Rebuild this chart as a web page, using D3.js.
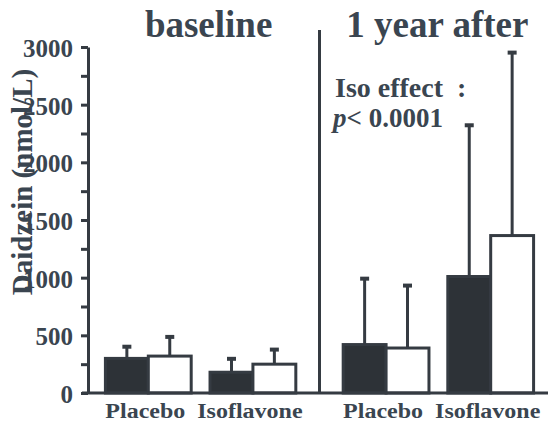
<!DOCTYPE html>
<html lang="en">
<head>
<meta charset="UTF-8">
<title>Daidzein</title>
<script src="https://cdn.jsdelivr.net/npm/d3@7/dist/d3.min.js"></script>
<style>
  body { margin: 0; background: #fff; }
  text { font-family: "Liberation Serif", "Times New Roman", serif; font-weight: bold; fill: #3a4550; }
</style>
</head>
<body>
<svg id="chart" width="551" height="432"></svg>
<script>
// data
var periods = ["baseline", "1 year after"];
var groups = ["Placebo", "Isoflavone"];
var arms = ["solid", "open"];
// per bar: baseline Placebo, baseline Isoflavone, 1yr Placebo, 1yr Isoflavone
var solidMean = [300, 180, 420, 1010];
var solidSD   = [110, 125, 580, 1320];
var openMean  = [320, 250, 390, 1365];
var openSD    = [175, 135, 550, 1595];
var yTicks = [0, 250, 500, 750, 1000, 1250, 1500, 1750, 2000, 2250, 2500, 2750, 3000];

var ink = "#353b42";
var svg = d3.select("#chart");

var rows = [];
periods.forEach(function(p, pi) {
  groups.forEach(function(g, gi) {
    var k = pi * 2 + gi;
    rows.push({period: p, group: g, arm: "solid", mean: solidMean[k], sd: solidSD[k]});
    rows.push({period: p, group: g, arm: "open", mean: openMean[k], sd: openSD[k]});
  });
});

var y = d3.scaleLinear().domain([0, 3000]).range([393, 47]);
var x0 = d3.scaleBand().domain(periods).range([96, 543]).paddingInner(0.12);
var x1 = d3.scaleBand().domain(groups).range([0, x0.bandwidth()]).paddingInner(0.18).paddingOuter(0.09);
var x2 = d3.scaleBand().domain(arms).range([0, x1.bandwidth()]);

function barX(d) { return x0(d.period) + x1(d.group) + x2(d.arm); }

// y axis
var yAxis = d3.axisLeft(y)
  .tickValues(yTicks)
  .tickFormat(function(d) { return d % 500 === 0 ? d : ""; })
  .tickSize(7)
  .tickSizeOuter(0)
  .tickPadding(8);

var ga = svg.append("g").attr("transform", "translate(88,0)").call(yAxis);
ga.select(".domain").attr("stroke", ink).attr("stroke-width", 3);
ga.selectAll(".tick line").attr("stroke", ink).attr("stroke-width", 3);
ga.selectAll(".tick text").style("font-size", "25px").attr("dy", "0.38em")
  .attr("fill", "#3a4550");

// error bars (upper only)
var eb = svg.append("g").selectAll("g").data(rows).enter().append("g");
eb.append("line")
  .attr("x1", function(d) { return barX(d) + x2.bandwidth() / 2; })
  .attr("x2", function(d) { return barX(d) + x2.bandwidth() / 2; })
  .attr("y1", function(d) { return y(d.mean); })
  .attr("y2", function(d) { return y(d.mean + d.sd); })
  .attr("stroke", ink).attr("stroke-width", 3);
eb.append("line")
  .attr("x1", function(d) { return barX(d) + x2.bandwidth() / 2 - 4.5; })
  .attr("x2", function(d) { return barX(d) + x2.bandwidth() / 2 + 4.5; })
  .attr("y1", function(d) { return y(d.mean + d.sd) + 1; })
  .attr("y2", function(d) { return y(d.mean + d.sd) + 1; })
  .attr("stroke", ink).attr("stroke-width", 4);

// bars
svg.append("g").selectAll("rect").data(rows).enter().append("rect")
  .attr("x", barX)
  .attr("y", function(d) { return y(d.mean); })
  .attr("width", x2.bandwidth())
  .attr("height", function(d) { return y(0) - y(d.mean); })
  .attr("fill", function(d) { return d.arm === "solid" ? "#2d3237" : "#fff"; })
  .attr("stroke", ink).attr("stroke-width", 3);

// baseline axis
svg.append("line").attr("x1", 82).attr("x2", 548).attr("y1", y(0)).attr("y2", y(0))
  .attr("stroke", ink).attr("stroke-width", 3);

// divider between periods
var divX = (x0(periods[0]) + x0.bandwidth() + x0(periods[1])) / 2;
svg.append("line").attr("x1", divX).attr("x2", divX).attr("y1", 30).attr("y2", y(0))
  .attr("stroke", ink).attr("stroke-width", 3);

// category labels
svg.append("g").selectAll("text").data(rows.filter(function(d) { return d.arm === "solid"; }))
  .enter().append("text")
  .attr("transform", function(d) {
    return "translate(" + (x0(d.period) + x1(d.group) + x1.bandwidth() / 2 - 3) + ",418) scale(1.2,1)";
  })
  .attr("text-anchor", "middle")
  .style("font-size", "20px")
  .text(function(d) { return d.group; });

// period titles
svg.append("g").selectAll("text").data(periods).enter().append("text")
  .attr("x", function(d) { return x0(d) + x0.bandwidth() / 2 + (d === "baseline" ? 8 : -1); })
  .attr("y", 37)
  .attr("text-anchor", "middle")
  .style("font-size", "37px")
  .text(function(d) { return d; });

// y label
svg.append("text")
  .attr("transform", "translate(32,182) rotate(-90)")
  .attr("text-anchor", "middle")
  .style("font-size", "29px")
  .text("Daidzein (nmol/L)");

// annotation
svg.append("text").attr("x", 335).attr("y", 97).style("font-size", "28px")
  .text("Iso effect").append("tspan").attr("dx", 14).text(":");
var pt = svg.append("text").attr("x", 333).attr("y", 127).style("font-size", "27px");
pt.append("tspan").style("font-style", "italic").text("p");
pt.append("tspan").text("< 0.0001");
</script>
</body>
</html>
